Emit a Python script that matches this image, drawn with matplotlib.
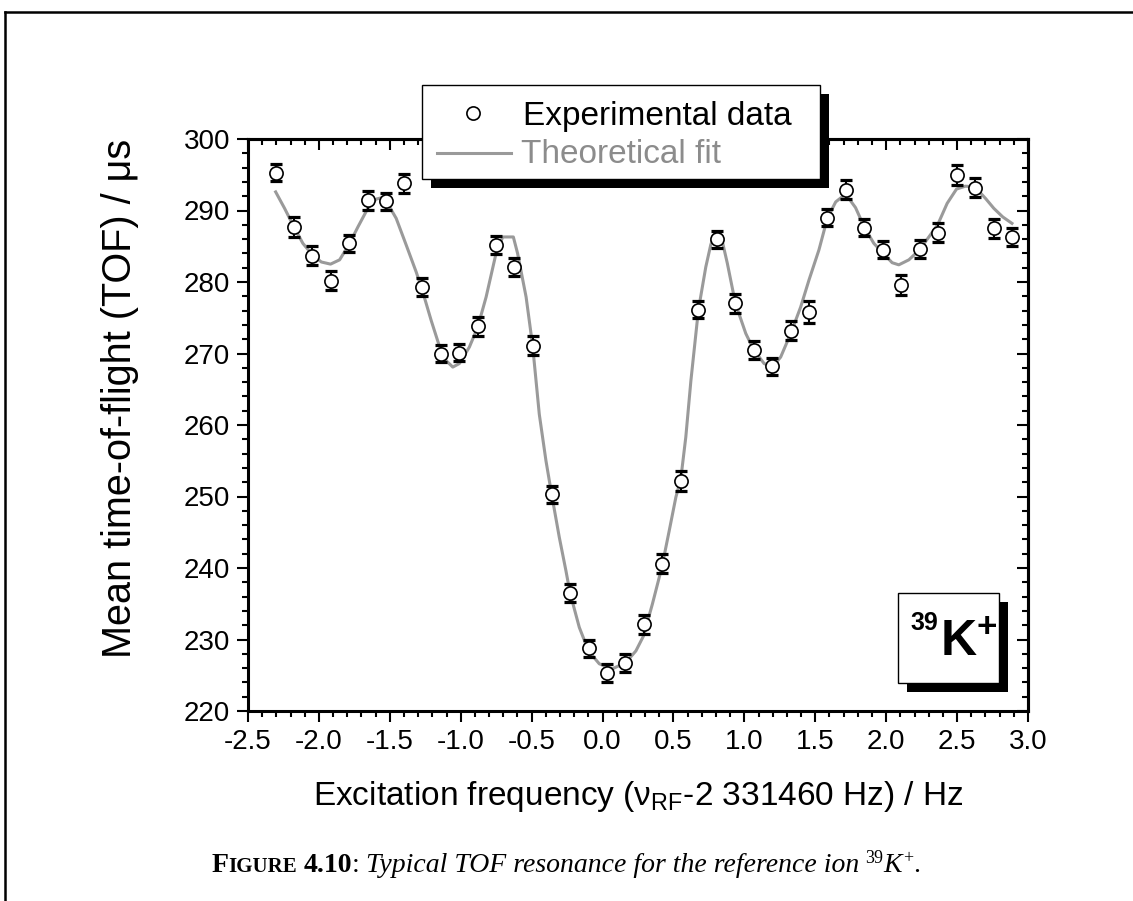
import matplotlib
matplotlib.use("Agg")
import matplotlib.pyplot as plt
from matplotlib.ticker import MultipleLocator
from matplotlib.patches import Rectangle
from matplotlib.lines import Line2D

plt.rcParams["font.family"] = ["Liberation Sans", "DejaVu Sans"]
plt.rcParams["mathtext.fontset"] = "custom"
plt.rcParams["mathtext.rm"] = "Liberation Sans"
plt.rcParams["mathtext.it"] = "Liberation Sans:italic"
plt.rcParams["mathtext.bf"] = "Liberation Sans:bold"

W, H = 1133, 901
_gray = "#9a9a9a"

# ----- data -----
freq = [-2.305, -2.176, -2.046, -1.918, -1.789, -1.655, -1.525, -1.401, -1.272, -1.141,
        -1.009, -0.880, -0.751, -0.622, -0.493, -0.359, -0.229, -0.099, 0.031, 0.160,
        0.289, 0.418, 0.552, 0.676, 0.805, 0.937, 1.066, 1.195, 1.327, 1.456,
        1.585, 1.714, 1.845, 1.975, 2.106, 2.235, 2.363, 2.496, 2.625, 2.759, 2.887]
tof = [295.3, 287.7, 283.7, 280.2, 285.4, 291.4, 291.3, 293.8, 279.3, 270.0,
       270.1, 273.8, 285.2, 282.1, 271.1, 250.3, 236.5, 228.8, 225.3, 226.7,
       232.1, 240.6, 252.2, 276.1, 286.0, 277.0, 270.5, 268.2, 273.2, 275.8,
       289.0, 292.9, 287.6, 284.5, 279.6, 284.6, 286.9, 295.0, 293.2, 287.5, 286.3]
tof_err = [1.2, 1.4, 1.3, 1.3, 1.2, 1.3, 1.2, 1.3, 1.2, 1.2,
           1.2, 1.3, 1.3, 1.3, 1.3, 1.2, 1.2, 1.2, 1.3, 1.3,
           1.3, 1.3, 1.4, 1.2, 1.2, 1.3, 1.2, 1.2, 1.3, 1.5,
           1.2, 1.3, 1.2, 1.2, 1.4, 1.3, 1.3, 1.4, 1.3, 1.3, 1.2]

fit_freq = [-2.305, -2.242, -2.176, -2.113, -2.046, -1.983, -1.918, -1.854, -1.789, -1.725,
            -1.655, -1.596, -1.554, -1.525, -1.455, -1.385, -1.314, -1.272, -1.208, -1.150,
            -1.103, -1.056, -1.009, -0.939, -0.880, -0.821, -0.751, -0.704, -0.629, -0.599,
            -0.539, -0.493, -0.469, -0.446, -0.399, -0.359, -0.305, -0.258, -0.229, -0.164,
            -0.099, -0.023, 0.070, 0.165, 0.235, 0.289, 0.352, 0.418, 0.470, 0.517,
            0.552, 0.587, 0.623, 0.676, 0.728, 0.763, 0.787, 0.834, 0.880, 0.937,
            1.010, 1.066, 1.139, 1.197, 1.256, 1.327, 1.397, 1.456, 1.526, 1.585,
            1.644, 1.714, 1.784, 1.845, 1.913, 1.975, 2.042, 2.089, 2.160, 2.235,
            2.301, 2.363, 2.430, 2.496, 2.559, 2.625, 2.700, 2.759, 2.822, 2.887]
fit_tof = [292.6, 290.3, 287.7, 285.4, 283.8, 282.8, 282.5, 283.1, 285.2, 287.7,
           290.3, 291.6, 291.8, 291.3, 288.9, 285.2, 281.4, 278.9, 274.6, 271.0,
           269.0, 268.1, 268.6, 270.9, 273.7, 277.9, 284.0, 286.3, 286.3, 284.0,
           277.9, 271.1, 266.2, 261.5, 255.0, 250.3, 244.3, 239.6, 236.5, 231.7,
           228.4, 226.6, 225.9, 226.8, 228.4, 230.5, 235.0, 240.1, 245.2, 249.9,
           252.5, 258.3, 266.2, 276.1, 282.1, 285.2, 286.6, 286.6, 282.6, 277.0,
           272.8, 270.5, 268.6, 268.1, 269.5, 272.8, 276.5, 280.3, 284.5, 288.9,
           291.2, 292.3, 290.4, 287.7, 285.4, 284.1, 282.7, 282.4, 283.1, 284.5,
           286.3, 288.0, 291.0, 293.0, 293.4, 293.3, 291.7, 290.3, 289.1, 288.2]


def fx(x):  # pixel -> figure fraction
    return x / W


def fy(y):
    return 1 - y / H


fig = plt.figure(figsize=(W / 100, H / 100), dpi=100)
ax = fig.add_axes([fx(248), fy(711), 780 / W, 572 / H])

ax.plot(fit_freq, fit_tof, color=_gray, lw=2.2, zorder=2)
ax.errorbar(freq, tof, yerr=tof_err, fmt="none", ecolor="black", elinewidth=1.5,
            capsize=4.5, capthick=2.3, zorder=3)
ax.plot(freq, tof, "o", ms=9.5, mfc="white", mec="black", mew=1.2, zorder=4)

ax.set_xlim(-2.5, 3.0)
ax.set_ylim(220, 300)
ax.xaxis.set_major_locator(MultipleLocator(0.5))
ax.xaxis.set_minor_locator(MultipleLocator(0.1))
ax.yaxis.set_major_locator(MultipleLocator(10))
ax.yaxis.set_minor_locator(MultipleLocator(2))
ax.xaxis.set_major_formatter(plt.FormatStrFormatter("%.1f"))
ax.tick_params(which="both", direction="out", width=1.5, labelsize=20, pad=5,
               top=False, right=False)
ax.tick_params(which="major", length=8)
ax.tick_params(which="minor", length=4)
for s in ax.spines.values():
    s.set_linewidth(2.2)

# mirrored ticks on top / right point into the plot
sx = ax.secondary_xaxis("top")
sx.xaxis.set_major_locator(MultipleLocator(0.5))
sx.xaxis.set_minor_locator(MultipleLocator(0.1))
sx.tick_params(which="both", direction="in", width=1.5, labeltop=False)
sx.tick_params(which="major", length=8)
sx.tick_params(which="minor", length=4)
sy = ax.secondary_yaxis("right")
sy.yaxis.set_major_locator(MultipleLocator(10))
sy.yaxis.set_minor_locator(MultipleLocator(2))
sy.tick_params(which="both", direction="in", width=1.5, labelright=False)
sy.tick_params(which="major", length=8)
sy.tick_params(which="minor", length=4)
for s in list(sx.spines.values()) + list(sy.spines.values()):
    s.set_linewidth(2.2)

ax.set_xlabel("Excitation frequency (ν$_\\mathregular{RF}$-2 331460 Hz) / Hz", fontsize=24, labelpad=17)
ax.set_ylabel("Mean time-of-flight (TOF) / μs", fontsize=28.5)
ax.yaxis.set_label_coords(-0.140, 0.547)

# ----- legend with drop shadow -----
fig.add_artist(Rectangle((fx(431), fy(188)), 398 / W, 94 / H, transform=fig.transFigure,
                         fc="black", ec="none", zorder=5))
fig.add_artist(Rectangle((fx(422), fy(179)), 398 / W, 94 / H, transform=fig.transFigure,
                         fc="white", ec="black", lw=1.0, zorder=6))
fig.add_artist(Line2D([fx(473)], [fy(113)], marker="o", ms=9.5, mfc="white", mec="black",
                      mew=1.2, transform=fig.transFigure, zorder=7))
fig.add_artist(Line2D([fx(437), fx(511)], [fy(153), fy(153)], color=_gray, lw=2.2,
                      transform=fig.transFigure, zorder=7))
fig.text(fx(523), fy(125), "Experimental data", fontsize=24, va="baseline", zorder=7)
fig.text(fx(521), fy(163), "Theoretical fit", fontsize=24, va="baseline", color="#8c8c8c", zorder=7)

# ----- 39K+ label box -----
fig.add_artist(Rectangle((fx(907), fy(692)), 101 / W, 90 / H, transform=fig.transFigure,
                         fc="black", ec="none", zorder=5))
fig.add_artist(Rectangle((fx(898), fy(683)), 101 / W, 90 / H, transform=fig.transFigure,
                         fc="white", ec="black", lw=1.0, zorder=6))
fig.text(fx(910), fy(630), "39", fontsize=18, fontweight="bold", va="baseline", zorder=7)
fig.text(fx(940), fy(656), r"$\mathbf{K}^{\mathbf{+}}$", fontsize=36, va="baseline", zorder=7)

# ----- page frame -----
fig.add_artist(Line2D([fx(5), fx(5)], [0, fy(12)], color="black", lw=1.8, transform=fig.transFigure))
fig.add_artist(Line2D([fx(5), 1], [fy(12), fy(12)], color="black", lw=1.8, transform=fig.transFigure))

# ----- caption, pieces laid out left to right -----
serif = ["Liberation Serif", "DejaVu Serif"]
pieces = [  # text, size, weight, style, raise px, gap after px
    ("F", 20, "bold", "normal", 0, 0),
    ("IGURE", 15, "bold", "normal", 0, 6),
    ("4.10", 20, "bold", "normal", 0, 0),
    (":", 20, "normal", "normal", 0, 6),
    ("Typical TOF resonance for the reference ion", 20, "normal", "italic", 0, 6),
    ("39", 13, "normal", "normal", 9, 1),
    ("K", 20, "normal", "italic", 0, 1),
    ("+", 13, "normal", "normal", 9, 0),
    (".", 20, "normal", "normal", 0, 0),
]
r = fig.canvas.get_renderer()
items = []
for s, size, wt, st, dy, gap in pieces:
    t = fig.text(0, fy(872 - dy), s, fontsize=size, fontweight=wt, style=st,
                 family=serif, va="baseline", ha="left")
    items.append((t, t.get_window_extent(r).width, gap))
total = sum(w + g for _, w, g in items)
x = 566 - total / 2
for t, w, g in items:
    t.set_x(fx(x))
    x += w + g

fig.savefig("out.png", dpi=100)
